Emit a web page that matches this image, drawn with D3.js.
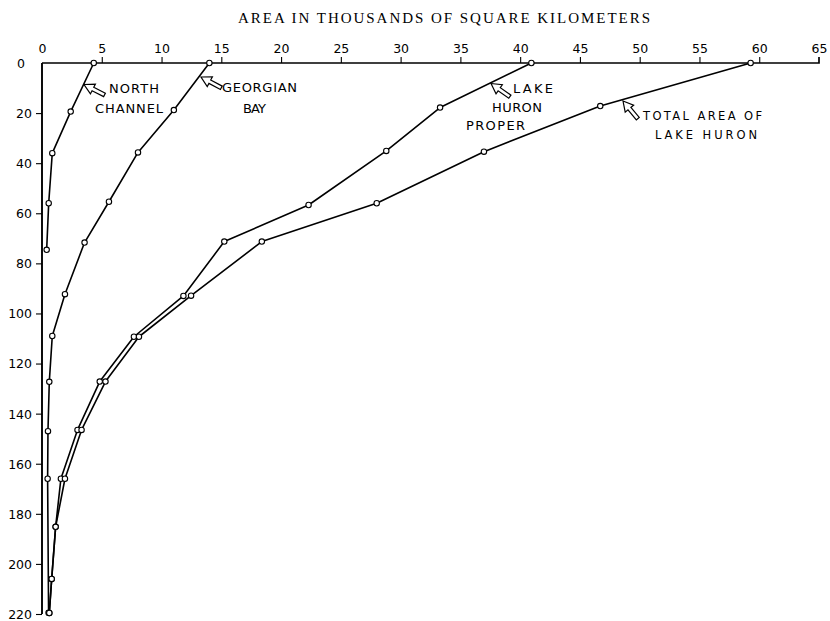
<!DOCTYPE html>
<html><head><meta charset="utf-8">
<script src="https://cdn.jsdelivr.net/npm/d3@7"></script>
<style>body{margin:0;background:#fff}svg{display:block}</style>
</head><body>
<script>
// ---- data ----
const xTicks = [0,5,10,15,20,25,30,35,40,45,50,55,60,65];
const yTicks = [0,20,40,60,80,100,120,140,160,180,200,220];

const northChannelDepth = [0, 19.4, 36, 56, 74.6];
const northChannelArea  = [4.33, 2.4, 0.86, 0.56, 0.39];

const georgianDepth = [0, 18.8, 35.7, 55.4, 71.7, 92.3, 109, 127.3, 147, 166, 219.5];
const georgianArea  = [14.0, 11.03, 8.03, 5.6, 3.56, 1.92, 0.86, 0.61, 0.5, 0.47, 0.55];

const properDepth = [0, 17.8, 35.1, 56.7, 71.3, 93, 109.3, 127.2, 146.5, 166, 185.2, 206, 219.6];
const properArea  = [40.94, 33.3, 28.8, 22.3, 15.25, 11.83, 7.69, 4.83, 2.97, 1.58, 1.14, 0.81, 0.61];

const totalDepth = [0, 17.2, 35.4, 56, 71.3, 92.9, 109.3, 127.2, 146.5, 166, 185.2, 206, 219.6];
const totalArea  = [59.28, 46.7, 36.97, 28.0, 18.39, 12.47, 8.11, 5.31, 3.31, 1.92, 1.14, 0.81, 0.61];

const seriesNames = ["North Channel","Georgian Bay","Lake Huron Proper","Total Area of Lake Huron"];
const titleText = "AREA IN THOUSANDS OF SQUARE KILOMETERS";

// ---- chart ----
const W = 830, H = 621;
const svg = d3.select("body").append("svg").attr("width", W).attr("height", H);
const x = d3.scaleLinear().domain([0,65]).range([42,819]);
const y = d3.scaleLinear().domain([0,220]).range([63,614]);

const lbl = "'DejaVu Sans', sans-serif";

svg.append("text").attr("x", 444).attr("y", 23).attr("text-anchor","middle")
  .attr("font-family","'Liberation Serif', 'Times New Roman', serif").attr("font-size", 15)
  .attr("textLength", 412).attr("lengthAdjust","spacing").text(titleText);

// top axis
const xa = svg.append("g").attr("transform", `translate(0,${y(0)})`)
  .call(d3.axisTop(x).tickValues(xTicks).tickSize(6).tickPadding(4).tickFormat(d3.format("d")));
xa.select(".domain").attr("d", `M${x(0)},0H${x(65)}V-6`).attr("stroke-width",1.7);
xa.selectAll(".tick line").attr("stroke-width",1.1);
xa.selectAll(".tick").filter(d => d===0 || d===65).select("line").remove();
xa.selectAll("text").attr("font-family", lbl).attr("font-size", 12.5).attr("fill","#000");

// left axis
const ya = svg.append("g").attr("transform", `translate(${x(0)},0)`)
  .call(d3.axisLeft(y).tickValues(yTicks).tickSize(6).tickPadding(4).tickFormat(d3.format("d")));
ya.select(".domain").attr("d", `M0,${y(0)}V${y(220)}`).attr("stroke-width",1.9);
ya.selectAll(".tick line").attr("stroke-width",1.1);
ya.selectAll(".tick").filter(d => d===0).select("line").remove();
ya.selectAll("text").attr("font-family", lbl).attr("font-size", 12.5).attr("fill","#000")
  .attr("dy","0.35em");
ya.selectAll(".tick").filter(d => d===0).select("text").attr("x", -17);

const series = [
  {depth: northChannelDepth, area: northChannelArea},
  {depth: georgianDepth, area: georgianArea},
  {depth: properDepth, area: properArea},
  {depth: totalDepth, area: totalArea}
];
const line = d3.line().x(d => x(d[0])).y(d => y(d[1]));
series.forEach(s => {
  const pts = s.area.map((a,i) => [a, s.depth[i]]);
  svg.append("path").attr("d", line(pts)).attr("fill","none")
    .attr("stroke","#000").attr("stroke-width",1.6).attr("stroke-linejoin","round");
  svg.append("g").selectAll("circle").data(pts).join("circle")
    .attr("cx", d => x(d[0])).attr("cy", d => y(d[1])).attr("r", 2.7)
    .attr("fill","#fff").attr("stroke","#000").attr("stroke-width",1.1);
});

// outline arrows
function arrow(tx, ty, angleDeg) {
  const L = 23, hl = 10, hw = 5.5, sw = 1.9;
  const p = [[0,0],[hl,-hw],[hl,-sw],[L,-sw],[L,sw],[hl,sw],[hl,hw]];
  svg.append("path").attr("d", "M" + p.map(q => q.join(",")).join("L") + "Z")
    .attr("transform", `translate(${tx},${ty}) rotate(${angleDeg})`)
    .attr("fill","#fff").attr("stroke","#000").attr("stroke-width",1.2).attr("stroke-linejoin","miter");
}
arrow(84, 84.5, 27);
arrow(201, 77, 28);
arrow(491, 83.5, 35);
arrow(623, 101, 50);

// labels
const labels = [
  {t:"NORTH", x:109, y:93, w:50, s:13},
  {t:"CHANNEL", x:95, y:113, w:68, s:13},
  {t:"GEORGIAN", x:222, y:92, w:75, s:13},
  {t:"BAY", x:243, y:113, w:23, s:13},
  {t:"LAKE", x:513, y:93, w:40, s:13},
  {t:"HURON", x:492, y:112, w:50, s:13},
  {t:"PROPER", x:466, y:130, w:59, s:13},
  {t:"TOTAL AREA OF", x:643, y:120, w:119, s:11.5},
  {t:"LAKE HURON", x:655, y:139, w:102, s:11.5}
];
svg.append("g").selectAll("text").data(labels).join("text")
  .attr("x", d => d.x).attr("y", d => d.y).attr("textLength", d => d.w).attr("lengthAdjust","spacing")
  .attr("font-family", lbl).attr("font-size", d => d.s).text(d => d.t);
</script>
</body></html>
